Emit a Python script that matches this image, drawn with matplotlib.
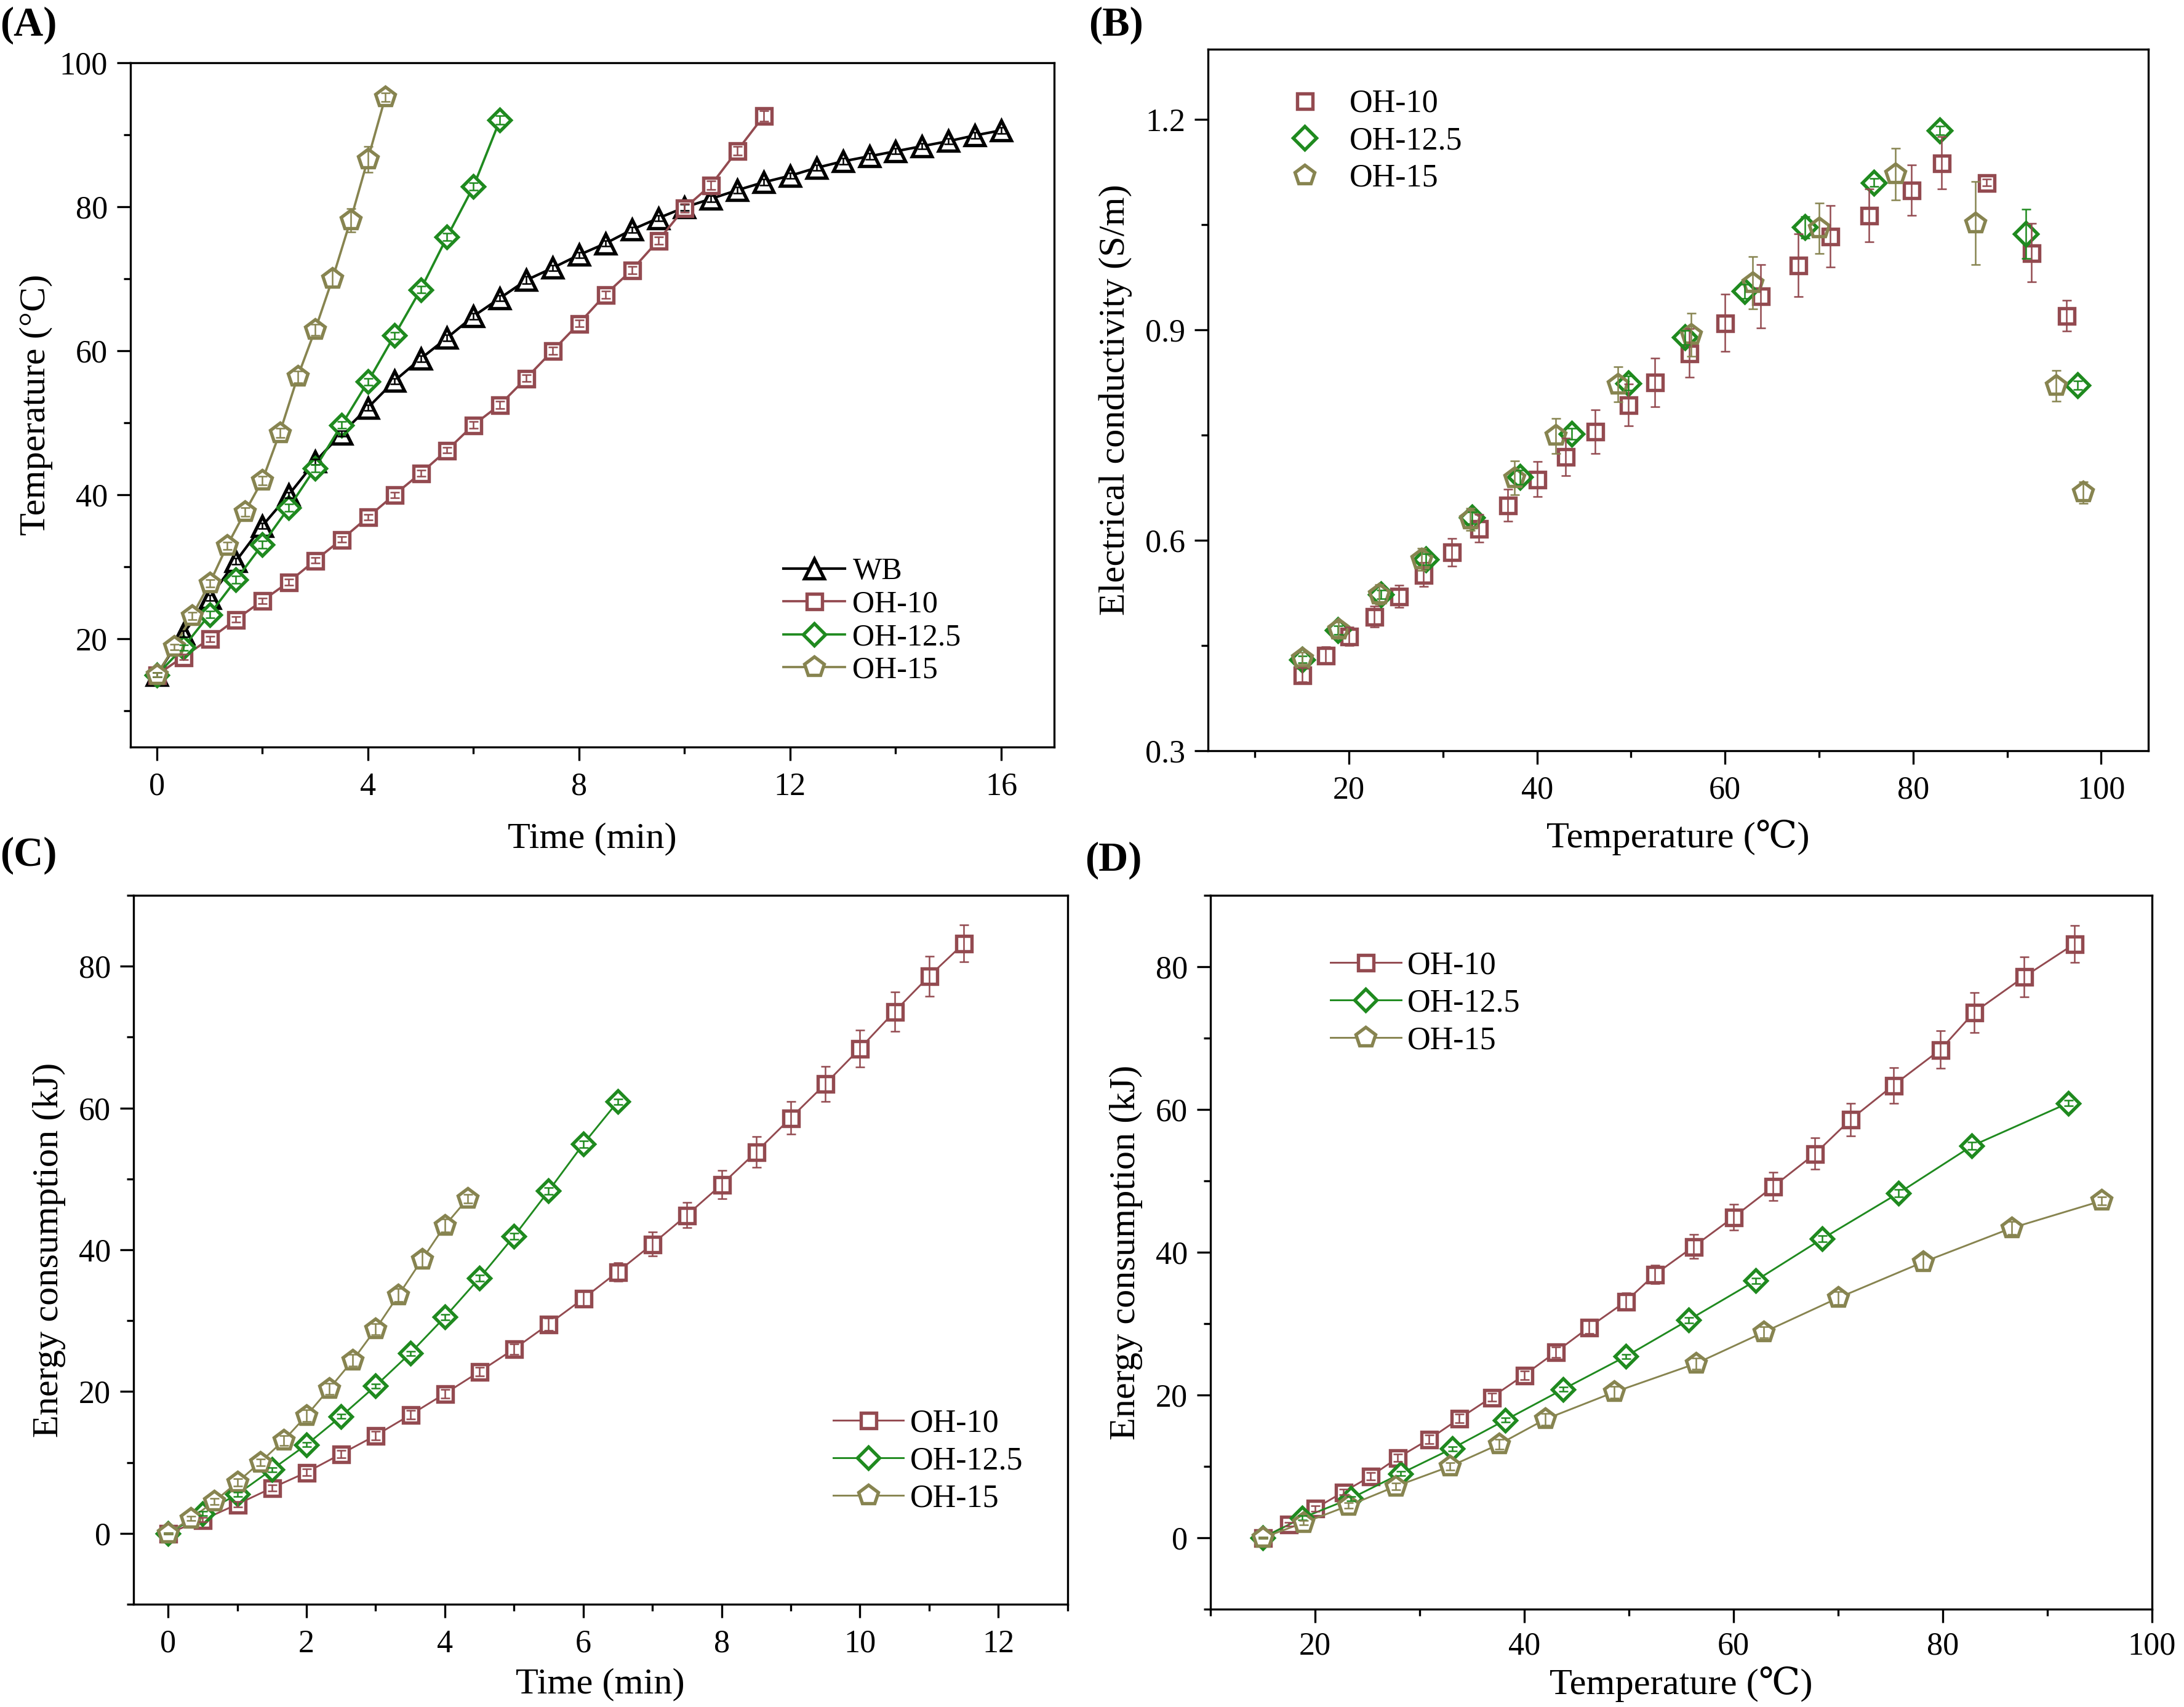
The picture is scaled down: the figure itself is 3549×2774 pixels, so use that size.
import numpy as np
import matplotlib
matplotlib.use("Agg")
from matplotlib import pyplot as plt
from matplotlib.ticker import MultipleLocator

plt.rcParams['font.family'] = ['Liberation Serif', 'DejaVu Serif']

# colours of the three ohmic runs and the water bath
c_wb = 'black'
c_10 = '#934a50'
c_125 = '#1f8a1f'
c_15 = '#878450'

# ---- (A) heating curves: time (min) -> temperature (C)
time_wb = [0, 0.5, 1, 1.5, 2, 2.5, 3, 3.5, 4, 4.5, 5, 5.5, 6, 6.5, 7, 7.5, 8,
           8.5, 9, 9.5, 10, 10.5, 11, 11.5, 12, 12.5, 13, 13.5, 14, 14.5, 15, 15.5, 16]
temp_wb = [15, 20.7, 25.7, 30.8, 35.7, 40.0, 44.6, 48.5, 52.1, 55.8, 58.9, 61.8, 64.8,
           67.3, 69.8, 71.5, 73.3, 74.9, 76.8, 78.4, 79.9, 81.1, 82.3, 83.4, 84.3, 85.4,
           86.3, 87.0, 87.7, 88.4, 89.1, 89.9, 90.6]
err_wb = [0.3, 0.4, 0.4, 0.4, 0.4, 0.4, 0.4, 0.4, 0.4, 0.4, 0.4, 0.4, 0.4, 0.4, 0.5,
          0.4, 0.4, 0.4, 0.4, 0.4, 0.4, 0.4, 0.4, 0.4, 0.4, 0.4, 0.4, 0.4, 0.4, 0.4, 0.4, 0.4, 0.4]

time_10 = [0, 0.5, 1, 1.5, 2, 2.5, 3, 3.5, 4, 4.5, 5, 5.5, 6, 6.5, 7, 7.5, 8,
           8.5, 9, 9.5, 10, 10.5, 11, 11.5]
temp_10 = [15, 17.5, 20.0, 22.7, 25.3, 27.9, 30.9, 33.8, 36.9, 40.0, 43.0, 46.2, 49.7,
           52.5, 56.2, 60.0, 63.8, 67.8, 71.2, 75.3, 79.8, 83.0, 87.8, 92.6]
terr_10 = [0.3, 0.4, 0.4, 0.4, 0.4, 0.4, 0.4, 0.4, 0.4, 0.4, 0.4, 0.4, 0.5, 0.5, 0.5,
           0.5, 0.5, 0.5, 0.5, 0.5, 0.6, 0.6, 0.6, 0.7]

time_125 = [0, 0.5, 1, 1.5, 2, 2.5, 3, 3.5, 4, 4.5, 5, 5.5, 6, 6.5]
temp_125 = [15, 18.8, 23.4, 28.2, 33.1, 38.2, 43.7, 49.7, 55.7, 62.1, 68.5, 75.8, 82.8, 92.0]
terr_125 = [0.3, 0.4, 0.5, 0.5, 0.5, 0.5, 0.5, 0.5, 0.5, 0.5, 0.5, 0.5, 0.5, 0.6]

time_15 = [0, 0.33, 0.67, 1.0, 1.33, 1.67, 2.0, 2.33, 2.67, 3.0, 3.33, 3.67, 4.0, 4.33]
temp_15 = [15, 18.9, 23.2, 27.7, 32.9, 37.6, 42.0, 48.6, 56.4, 62.9, 70.0, 78.1, 86.6, 95.2]
terr_15 = [0.3, 0.4, 0.5, 0.5, 0.5, 0.6, 0.6, 0.6, 0.8, 0.8, 1.2, 1.6, 1.8, 0.6]

# ---- (B) electrical conductivity (S/m) vs temperature (C)
ctemp_10 = temp_10 + [96.3]
cond_10 = [0.408, 0.436, 0.463, 0.491, 0.520, 0.551, 0.583, 0.617, 0.650, 0.687, 0.719,
           0.755, 0.793, 0.825, 0.867, 0.910, 0.948, 0.992, 1.033, 1.063, 1.099, 1.138,
           1.110, 1.010, 0.920]
cerr_10 = [0.010, 0.012, 0.013, 0.015, 0.016, 0.017, 0.020, 0.020, 0.023, 0.025, 0.027,
           0.031, 0.030, 0.035, 0.035, 0.041, 0.045, 0.045, 0.044, 0.038, 0.036, 0.037,
           0.005, 0.042, 0.022]

ctemp_125 = temp_125 + [97.5]
cond_125 = [0.430, 0.472, 0.523, 0.573, 0.632, 0.690, 0.752, 0.824, 0.889, 0.955, 1.046,
            1.110, 1.184, 1.037, 0.821]
cerr_125 = [0.005, 0.006, 0.006, 0.008, 0.008, 0.010, 0.008, 0.010, 0.010, 0.010, 0.015,
            0.006, 0.006, 0.035, 0.006]

ctemp_15 = temp_15 + [98.1]
cond_15 = [0.432, 0.473, 0.523, 0.573, 0.630, 0.689, 0.749, 0.822, 0.893, 0.967, 1.045,
           1.122, 1.052, 0.820, 0.668]
cerr_15 = [0.008, 0.010, 0.014, 0.016, 0.016, 0.024, 0.025, 0.025, 0.031, 0.037, 0.036,
           0.037, 0.059, 0.022, 0.015]

# ---- (C)/(D) energy consumption (kJ)
energy_10 = [0, 1.9, 4.1, 6.4, 8.6, 11.2, 13.8, 16.7, 19.7, 22.8, 26.0, 29.5, 33.1, 36.9,
             40.8, 44.9, 49.2, 53.8, 58.6, 63.4, 68.4, 73.6, 78.6, 83.2]
eerr_10 = [0.1, 0.3, 0.4, 0.4, 0.5, 0.5, 0.6, 0.6, 0.6, 0.6, 0.75, 0.9, 1.2, 1.3, 1.7,
           1.8, 2.0, 2.2, 2.3, 2.5, 2.6, 2.8, 2.8, 2.6]
energy_125 = [0, 2.8, 5.5, 9.0, 12.5, 16.5, 20.8, 25.4, 30.5, 36.0, 41.9, 48.3, 54.9, 60.9]
eerr_125 = [0.1, 0.3, 0.3, 0.3, 0.3, 0.3, 0.3, 0.3, 0.4, 0.4, 0.4, 0.5, 0.5, 0.4]
energy_15 = [0, 2.1, 4.5, 7.2, 10.0, 13.1, 16.6, 20.4, 24.4, 28.8, 33.6, 38.6, 43.4, 47.2]
eerr_15 = [0.1, 0.3, 0.4, 0.5, 0.5, 0.7, 0.8, 0.8, 0.8, 0.8, 0.9, 1.1, 0.9, 0.6]

fig = plt.figure(figsize=(3549 / 300, 2774 / 300), dpi=300)
ax_a = fig.add_axes([0.0597, 0.5624, 0.4229, 0.4009])
ax_b = fig.add_axes([0.5531, 0.5602, 0.4305, 0.4110])
ax_c = fig.add_axes([0.0611, 0.0602, 0.4277, 0.4153])
ax_d = fig.add_axes([0.5542, 0.0573, 0.4311, 0.4182])


def series(ax, x, y, err, color, marker, ms, label, line=True, lw=0.9):
    ax.plot(x, y, linestyle='-' if line else 'none', color=color, lw=lw,
            marker=marker, ms=ms, mfc='white' if line else 'none', mec=color,
            mew=1.3, label=label, zorder=2)
    ax.errorbar(x, y, yerr=err, fmt='none', ecolor=color, elinewidth=0.6,
                capsize=1.8, capthick=0.6, zorder=3)


def style(ax, xmaj, xmin, ymaj, ymin):
    ax.xaxis.set_major_locator(MultipleLocator(xmaj))
    ax.xaxis.set_minor_locator(MultipleLocator(xmin))
    ax.yaxis.set_major_locator(MultipleLocator(ymaj))
    ax.yaxis.set_minor_locator(MultipleLocator(ymin))
    ax.tick_params(which='both', direction='out', top=False, right=False, width=0.8)
    ax.tick_params(which='major', length=5.3, labelsize=12.5)
    ax.tick_params(which='minor', length=2.6)
    ax.tick_params(axis='x', which='major', pad=4.5)
    ax.tick_params(axis='y', which='major', pad=3.5)
    for s in ax.spines.values():
        s.set_linewidth(0.8)


# (A)
series(ax_a, time_wb, temp_wb, err_wb, c_wb, '^', 7.5, 'WB', lw=1.0)
series(ax_a, time_10, temp_10, terr_10, c_10, 's', 6, 'OH-10')
series(ax_a, time_125, temp_125, terr_125, c_125, 'D', 6, 'OH-12.5')
series(ax_a, time_15, temp_15, terr_15, c_15, 'p', 8, 'OH-15')
ax_a.set_xlim(-0.5, 17)
ax_a.set_ylim(5, 100)
style(ax_a, 4, 2, 20, 10)
ax_a.set_xlabel('Time (min)', fontsize=14.5, labelpad=8)
ax_a.set_ylabel('Temperature (°C)', fontsize=14.5, labelpad=2.5)
ax_a.legend(loc='upper left', bbox_to_anchor=(0.707, 0.277), frameon=False,
            fontsize=12, handlelength=2.0, handletextpad=0.25, labelspacing=0.14,
            borderpad=0, borderaxespad=0)

# (B)
series(ax_b, ctemp_10, cond_10, cerr_10, c_10, 's', 6, 'OH-10', line=False)
series(ax_b, ctemp_125, cond_125, cerr_125, c_125, 'D', 6.5, 'OH-12.5', line=False)
series(ax_b, ctemp_15, cond_15, cerr_15, c_15, 'p', 8, 'OH-15', line=False)
ax_b.set_xlim(5, 105)
ax_b.set_ylim(0.3, 1.3)
style(ax_b, 20, 10, 0.3, 0.15)
ax_b.set_xlabel('Temperature (\u2103)', fontsize=14.5, labelpad=5.5)
ax_b.set_ylabel('Electrical conductivity (S/m)', fontsize=14.5, labelpad=5)
ax_b.legend(loc='upper left', bbox_to_anchor=(0.086, 0.943), frameon=False,
            fontsize=12.5, handlelength=1.0, handletextpad=0.9, labelspacing=0.24,
            borderpad=0, borderaxespad=0)

# (C)
series(ax_c, time_10, energy_10, eerr_10, c_10, 's', 6, 'OH-10', lw=0.7)
series(ax_c, time_125, energy_125, eerr_125, c_125, 'D', 6, 'OH-12.5', lw=0.7)
series(ax_c, time_15, energy_15, eerr_15, c_15, 'p', 8, 'OH-15', lw=0.7)
ax_c.set_xlim(-0.5, 13)
ax_c.set_ylim(-10, 90)
style(ax_c, 2, 1, 20, 10)
ax_c.set_xlabel('Time (min)', fontsize=14.5, labelpad=3.5)
ax_c.set_ylabel('Energy consumption (kJ)', fontsize=14.5, labelpad=5)
ax_c.legend(loc='upper left', bbox_to_anchor=(0.749, 0.276), frameon=False,
            fontsize=12.5, handlelength=2.2, handletextpad=0.2, labelspacing=0.25,
            borderpad=0, borderaxespad=0)

# (D)
series(ax_d, temp_10, energy_10, eerr_10, c_10, 's', 6, 'OH-10', lw=0.7)
series(ax_d, temp_125, energy_125, eerr_125, c_125, 'D', 6, 'OH-12.5', lw=0.7)
series(ax_d, temp_15, energy_15, eerr_15, c_15, 'p', 8, 'OH-15', lw=0.7)
ax_d.set_xlim(10, 100)
ax_d.set_ylim(-10, 90)
style(ax_d, 20, 10, 20, 10)
ax_d.tick_params(axis='x', which='major', pad=3.5)
ax_d.set_xlabel('Temperature (\u2103)', fontsize=14.5, labelpad=2)
ax_d.set_ylabel('Energy consumption (kJ)', fontsize=14.5, labelpad=5)
ax_d.legend(loc='upper left', bbox_to_anchor=(0.1275, 0.922), frameon=False,
            fontsize=12.5, handlelength=2.2, handletextpad=0.2, labelspacing=0.25,
            borderpad=0, borderaxespad=0)

# panel letters
for lab, x, y in [('(A)', 0.0, 0.985), ('(B)', 0.4985, 0.985),
                  ('(C)', 0.0, 0.499), ('(D)', 0.4968, 0.496)]:
    fig.text(x, y, lab, fontsize=16, fontweight='bold', ha='left', va='center')

fig.savefig('out.png', dpi=300)
